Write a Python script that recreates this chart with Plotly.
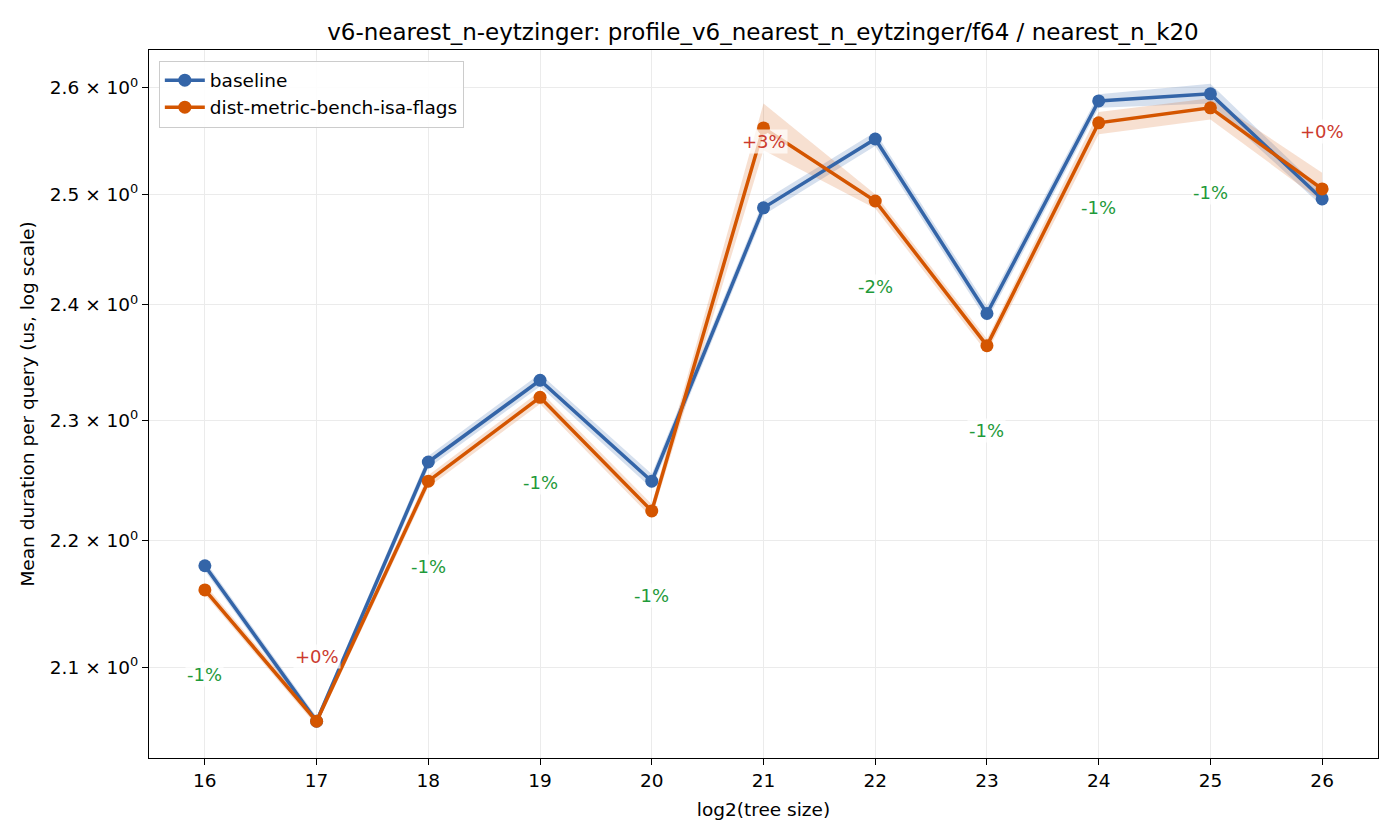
import numpy as np
import plotly.graph_objects as go

tree_log2 = [16, 17, 18, 19, 20, 21, 22, 23, 24, 25, 26]

baseline = [2.180, 2.0585, 2.265, 2.3343, 2.249, 2.4875, 2.5515, 2.3925, 2.5876, 2.5943, 2.4957]
baseline_lo = [2.176, 2.055, 2.260, 2.329, 2.243, 2.481, 2.545, 2.386, 2.581, 2.585, 2.489]
baseline_hi = [2.184, 2.062, 2.270, 2.340, 2.255, 2.494, 2.558, 2.399, 2.594, 2.604, 2.503]

candidate = [2.1606, 2.0585, 2.249, 2.3197, 2.2245, 2.5619, 2.4938, 2.3643, 2.5667, 2.5810, 2.5049]
candidate_lo = [2.157, 2.055, 2.244, 2.314, 2.219, 2.541, 2.487, 2.358, 2.556, 2.570, 2.493]
candidate_hi = [2.165, 2.062, 2.254, 2.325, 2.230, 2.585, 2.500, 2.370, 2.577, 2.590, 2.520]

pct_labels = ["-1%", "+0%", "-1%", "-1%", "-1%", "+3%", "-2%", "-1%", "-1%", "-1%", "+0%"]

y_tick_vals = [2.1, 2.2, 2.3, 2.4, 2.5, 2.6]
y_tick_text = ["2.1 × 10<sup>0</sup>", "2.2 × 10<sup>0</sup>", "2.3 × 10<sup>0</sup>",
               "2.4 × 10<sup>0</sup>", "2.5 × 10<sup>0</sup>", "2.6 × 10<sup>0</sup>"]

BLUE = "#3465a8"
ORANGE = "#d45500"
GREEN = "#1f9a3a"
RED = "#cc3a2e"
FONT = "DejaVu Sans"
FS = 18.5

fig = go.Figure()

def band(lo, hi, color):
    fig.add_trace(go.Scatter(x=tree_log2 + tree_log2[::-1], y=hi + lo[::-1],
                             fill="toself", fillcolor=color, line=dict(width=0),
                             mode="lines", showlegend=False, hoverinfo="skip"))

band(baseline_lo, baseline_hi, "rgba(52,101,168,0.2)")
band(candidate_lo, candidate_hi, "rgba(212,85,0,0.18)")

fig.add_trace(go.Scatter(x=tree_log2, y=baseline, mode="lines+markers", name="baseline",
                         line=dict(color=BLUE, width=3.5), marker=dict(size=13, color=BLUE)))
fig.add_trace(go.Scatter(x=tree_log2, y=candidate, mode="lines+markers",
                         name="dist-metric-bench-isa-flags",
                         line=dict(color=ORANGE, width=3.5), marker=dict(size=13, color=ORANGE)))

shift_override = {21: -14, 17: 65, 26: 57}
for i, x in enumerate(tree_log2):
    lab = pct_labels[i]
    if lab.startswith("+"):
        yv = max(baseline[i], candidate[i])
        ys = shift_override.get(x, 60)
        col = RED
    else:
        yv = min(baseline[i], candidate[i])
        ys = -85
        col = GREEN
    fig.add_annotation(x=x, y=np.log10(yv), text=lab, showarrow=False, yshift=ys,
                       font=dict(family=FONT, size=18, color=col),
                       bgcolor="rgba(255,255,255,0.7)", borderpad=1)

fig.update_layout(
    width=1400, height=840,
    paper_bgcolor="white", plot_bgcolor="white",
    margin=dict(l=149, r=22, t=50, b=82),
    font=dict(family=FONT, size=FS, color="black"),
    title=dict(text="v6-nearest_n-eytzinger: profile_v6_nearest_n_eytzinger/f64 / nearest_n_k20",
               x=763 / 1400, xanchor="center", y=1 - 32 / 840, yanchor="middle",
               font=dict(family=FONT, size=23)),
    legend=dict(x=0.008, y=0.985, xanchor="left", yanchor="top",
                bgcolor="rgba(255,255,255,0.9)", bordercolor="#cccccc", borderwidth=1,
                font=dict(family=FONT, size=FS), itemwidth=40, tracegroupgap=0),
    showlegend=True,
)
fig.update_xaxes(range=[15.5, 26.5], tickmode="array", tickvals=tree_log2,
                 ticktext=[str(v) for v in tree_log2],
                 showgrid=True, gridcolor="#ebebeb", gridwidth=1,
                 showline=True, linecolor="black", linewidth=1, mirror=True,
                 ticks="outside", ticklen=6, tickcolor="black",
                 title=dict(text="log2(tree size)", font=dict(family=FONT, size=FS), standoff=12),
                 zeroline=False)
fig.update_yaxes(type="log", range=[np.log10(2.0308), np.log10(2.6366)],
                 tickmode="array", tickvals=y_tick_vals, ticktext=y_tick_text,
                 showgrid=True, gridcolor="#ebebeb", gridwidth=1,
                 showline=True, linecolor="black", linewidth=1, mirror=True,
                 ticks="outside", ticklen=6, tickcolor="black",
                 title=dict(text="Mean duration per query (us, log scale)",
                            font=dict(family=FONT, size=FS), standoff=10),
                 zeroline=False)

fig.write_html("out.html")
